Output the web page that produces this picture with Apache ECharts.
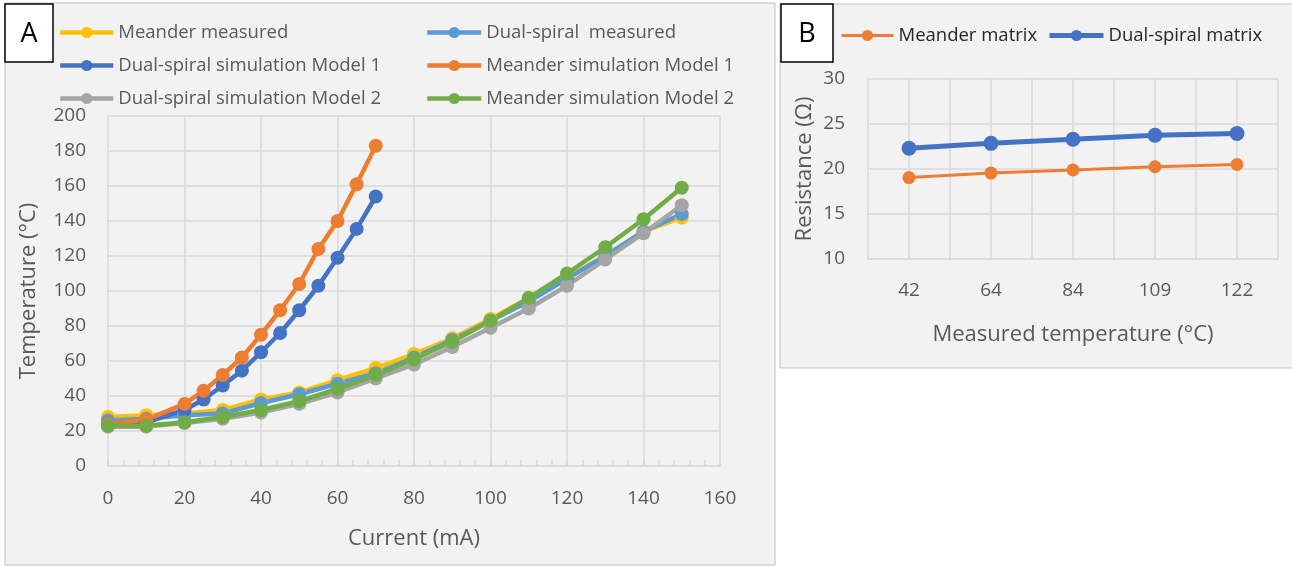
<!DOCTYPE html>
<html>
<head>
<meta charset="utf-8">
<script src="https://cdn.jsdelivr.net/npm/echarts@6/dist/echarts.min.js"></script>
<style>
html,body{margin:0;padding:0;background:#ffffff;}
#chart{width:1292px;height:566px;}
</style>
</head>
<body>
<div id="chart"></div>
<script>
// ---------- Panel A data ----------
const currentMeasured = [0,10,20,30,40,50,60,70,80,90,100,110,120,130,140,150];
const meanderMeasured = [28,29,30,32,38,42,49,56,64,73,84,96,108,120,134,142];
const dualMeasured    = [26,27,29,30,36,41,47,53,62,72,83,94,107,120,134,144];
const currentSim      = [0,10,20,25,30,35,40,45,50,55,60,65,70];
const dualSim1        = [24,25,32,38,46,54.5,65,76,89,103,119,135.5,154];
const meanderSim1     = [24,26.5,35.5,43,52,62,75,89,104,124,140,161,183];
const dualSim2        = [22.5,22.5,24.5,27,30.5,35.5,42,50,58,68,79,90,103,118,133,149];
const meanderSim2     = [23,23,25,28,32,37,44,52,61,71,83,96,110,125,141,159];

// ---------- Panel B data ----------
const measuredTemps  = ['42','64','84','109','122'];
const meanderMatrix  = [19.05,19.55,19.9,20.25,20.5];
const dualMatrix     = [22.3,22.85,23.3,23.75,23.95];

const FONT = 'Open Sans';
const LABEL = '#595959';
const GRID = '#D9D9D9';

function pairs(xs, ys){ return xs.map((x,i)=>[x, ys[i]]); }

function lineA(name, color, xs, ys){
  return {
    name, type:'line', xAxisIndex:0, yAxisIndex:0,
    data: pairs(xs, ys),
    symbol:'circle', symbolSize:14, showSymbol:true,
    lineStyle:{color, width:4.5},
    itemStyle:{color},
    emphasis:{disabled:true},
    animation:false
  };
}

const chart = echarts.init(document.getElementById('chart'), null, {renderer:'canvas'});

const legendText = {color:LABEL, fontSize:18.5, fontFamily:FONT, lineHeight:18};

const option = {
  backgroundColor:'#ffffff',
  animation:false,
  textStyle:{fontFamily:FONT},
  graphic:[
    {type:'rect', z:-10, silent:true, shape:{x:5,y:3,width:770,height:562}, style:{fill:'#F2F2F2', stroke:'#BFBFBF', lineWidth:1}},
    {type:'rect', z:-10, silent:true, shape:{x:780,y:4,width:520,height:364}, style:{fill:'#F2F2F2', stroke:'#BFBFBF', lineWidth:1}},
    {type:'rect', z:100, silent:true, shape:{x:5,y:4,width:48,height:58}, style:{fill:'#ffffff', stroke:'#000000', lineWidth:1.5}},
    {type:'text', z:101, silent:true, x:29, y:34, style:{text:'A', fill:'#000', font:'27px "Open Sans"', align:'center', verticalAlign:'middle'}},
    {type:'rect', z:100, silent:true, shape:{x:781,y:4,width:52,height:58}, style:{fill:'#ffffff', stroke:'#000000', lineWidth:1.5}},
    {type:'text', z:101, silent:true, x:807, y:34, style:{text:'B', fill:'#000', font:'27px "Open Sans"', align:'center', verticalAlign:'middle'}}
  ],
  legend:[
    {
      orient:'vertical', left:58, top:23, padding:0, itemWidth:53, itemHeight:14, itemGap:14,
      selectedMode:false, lineStyle:{width:'inherit'},
      textStyle:legendText,
      data:['Meander measured','Dual-spiral simulation Model 1','Dual-spiral simulation Model 2']
    },
    {
      orient:'vertical', left:425, top:23, padding:0, itemWidth:54, itemHeight:14, itemGap:14,
      selectedMode:false, lineStyle:{width:'inherit'},
      textStyle:legendText,
      data:['Dual-spiral  measured','Meander simulation Model 1','Meander simulation Model 2']
    },
    {
      orient:'horizontal', left:840, top:26, padding:0, itemWidth:52, itemHeight:14,
      selectedMode:false, lineStyle:{width:'inherit'},
      textStyle:{color:'#262626', fontSize:18.5, fontFamily:FONT, lineHeight:18},
      data:['Meander matrix']
    },
    {
      orient:'horizontal', left:1047, top:26, padding:0, itemWidth:54, itemHeight:14,
      selectedMode:false, lineStyle:{width:'inherit'},
      textStyle:{color:'#262626', fontSize:18.5, fontFamily:FONT, lineHeight:18},
      data:['Dual-spiral matrix']
    }
  ],
  grid:[
    {left:108, right:572, top:116, bottom:100, containLabel:false},
    {left:868, right:14, top:79, bottom:307, containLabel:false}
  ],
  xAxis:[
    {
      type:'value', gridIndex:0, min:0, max:160, interval:20,
      name:'Current (mA)', nameLocation:'middle', nameGap:62,
      nameTextStyle:{color:LABEL, fontSize:22, fontFamily:FONT},
      axisLine:{show:true, lineStyle:{color:GRID, width:1.5}},
      axisTick:{show:true, inside:true, length:6, lineStyle:{color:GRID, width:1.5}},
      minorTick:{show:true, splitNumber:5, length:6, lineStyle:{color:GRID, width:1.5}},
      axisLabel:{color:LABEL, fontSize:19, fontFamily:FONT, margin:23},
      splitLine:{show:true, lineStyle:{color:GRID, width:1.5}}
    },
    {
      type:'category', gridIndex:1, data:measuredTemps, boundaryGap:true,
      name:'Measured temperature (°C)', nameLocation:'middle', nameGap:65,
      nameTextStyle:{color:LABEL, fontSize:22, fontFamily:FONT},
      axisLine:{show:true, lineStyle:{color:GRID, width:1.5}},
      axisTick:{show:false},
      axisLabel:{color:LABEL, fontSize:19, fontFamily:FONT, margin:22},
      splitLine:{show:false}
    },
    {
      type:'value', gridIndex:1, min:0, max:10, interval:1, show:true,
      axisLine:{show:false}, axisTick:{show:false}, axisLabel:{show:false},
      splitLine:{show:true, lineStyle:{color:GRID, width:1.5}}
    }
  ],
  yAxis:[
    {
      type:'value', gridIndex:0, min:0, max:200, interval:20,
      name:'Temperature (°C)', nameLocation:'middle', nameGap:68,
      nameTextStyle:{color:LABEL, fontSize:22, fontFamily:FONT},
      axisLine:{show:false}, axisTick:{show:false},
      axisLabel:{color:LABEL, fontSize:19, fontFamily:FONT, margin:22},
      splitLine:{show:true, lineStyle:{color:GRID, width:1.5}}
    },
    {
      type:'value', gridIndex:1, min:10, max:30, interval:5,
      name:'Resistance (Ω)', nameLocation:'middle', nameGap:52,
      nameTextStyle:{color:LABEL, fontSize:22, fontFamily:FONT},
      axisLine:{show:false}, axisTick:{show:false},
      axisLabel:{color:LABEL, fontSize:19, fontFamily:FONT, margin:23},
      splitLine:{show:true, lineStyle:{color:GRID, width:1.5}}
    }
  ],
  series:[
    lineA('Meander measured', '#FFC000', currentMeasured, meanderMeasured),
    lineA('Dual-spiral  measured', '#5B9BD5', currentMeasured, dualMeasured),
    lineA('Dual-spiral simulation Model 1', '#4472C4', currentSim, dualSim1),
    lineA('Meander simulation Model 1', '#ED7D31', currentSim, meanderSim1),
    lineA('Dual-spiral simulation Model 2', '#A5A5A5', currentMeasured, dualSim2),
    lineA('Meander simulation Model 2', '#70AD47', currentMeasured, meanderSim2),
    {
      name:'Meander matrix', type:'line', xAxisIndex:1, yAxisIndex:1,
      data:meanderMatrix, symbol:'circle', symbolSize:13,
      lineStyle:{color:'#ED7D31', width:3}, itemStyle:{color:'#ED7D31'},
      emphasis:{disabled:true}, animation:false
    },
    {
      name:'Dual-spiral matrix', type:'line', xAxisIndex:1, yAxisIndex:1,
      data:dualMatrix, symbol:'circle', symbolSize:15,
      lineStyle:{color:'#4472C4', width:5}, itemStyle:{color:'#4472C4'},
      emphasis:{disabled:true}, animation:false
    }
  ]
};
chart.setOption(option);
</script>
</body>
</html>
